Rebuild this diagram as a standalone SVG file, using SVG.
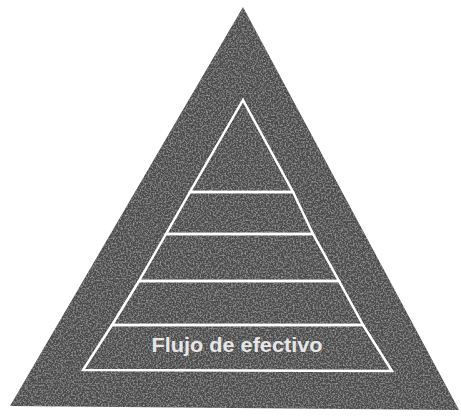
<svg xmlns="http://www.w3.org/2000/svg" width="461" height="418" viewBox="0 0 461 418">
  <style>
    .outer { fill: #4c4c4c; }
    .edge { fill: none; stroke: #ffffff; stroke-width: 2.5; stroke-linejoin: miter; }
    .lbl { font-family: "Liberation Sans", Arial, sans-serif; font-size: 21px; font-weight: bold; fill: #e6e6e6; }
  </style>
  <defs>
    <filter id="grain" x="0" y="0" width="100%" height="100%">
      <feTurbulence type="fractalNoise" baseFrequency="0.6" numOctaves="2" seed="3" result="n"/>
      <feColorMatrix in="n" type="matrix" values="0 0 0 0 1  0 0 0 0 1  0 0 0 0 1  0 0 0 0.6 -0.25" result="spots"/>
      <feComposite in="spots" in2="SourceGraphic" operator="in" result="clip"/>
      <feMerge><feMergeNode in="SourceGraphic"/><feMergeNode in="clip"/></feMerge>
    </filter>
  </defs>
  <rect width="461" height="418" fill="#ffffff"/>
  <g id="outer-triangle">
    <polygon class="outer" points="243,7 10,406 459,410" filter="url(#grain)"/>
  </g>
  <g id="pyramid">
    <g id="level-1"><polygon class="edge" points="243,100 190,192 293,192"/></g>
    <g id="level-2"><polygon class="edge" points="190,192 166,234 313,234 293,192"/></g>
    <g id="level-3"><polygon class="edge" points="166,234 139,281 339,281 313,234"/></g>
    <g id="level-4"><polygon class="edge" points="139,281 112,325 363,325 339,281"/></g>
    <g id="level-5">
      <polygon class="edge" points="112,325 83,370 392,371 363,325"/>
      <text class="lbl" x="237" y="352" text-anchor="middle" textLength="171" lengthAdjust="spacingAndGlyphs">Flujo de efectivo</text>
    </g>
  </g>
</svg>
